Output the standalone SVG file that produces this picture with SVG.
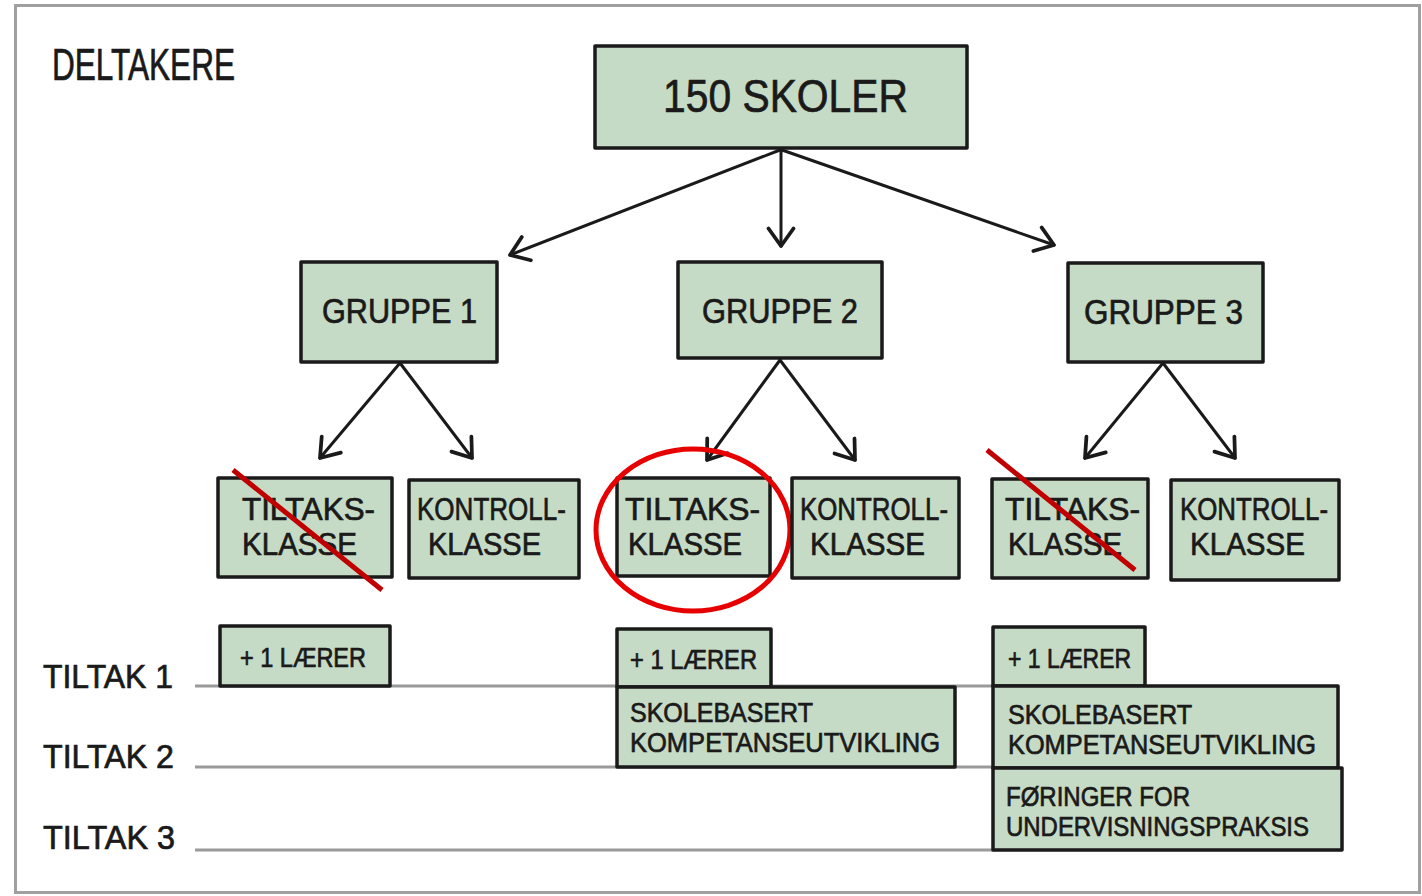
<svg xmlns="http://www.w3.org/2000/svg" width="1422" height="896" viewBox="0 0 1422 896">
<style>
.box{fill:#c6dbc5;stroke:#1a1a1a;stroke-width:3.5;stroke-linejoin:round}
.t{font-family:"Liberation Sans",Arial,sans-serif;fill:#1a1a1a;stroke:#1a1a1a;stroke-width:0.7;font-weight:normal}
.lane{stroke:#9a9a9a;stroke-width:3;fill:none}
.conn{stroke:#1a1a1a;stroke-width:3;fill:none;stroke-linecap:round}
.strike{stroke:#c00000;stroke-width:5;stroke-linecap:butt}
</style>
<defs>
<marker id="ah" markerUnits="userSpaceOnUse" markerWidth="30" markerHeight="30" viewBox="-16 -12 20 24" refX="0" refY="0" orient="auto">
<path d="M -14 -10 L 0 0 L -14 10" fill="none" stroke="#1a1a1a" stroke-width="3" stroke-linecap="round" stroke-linejoin="round"/>
</marker>
</defs>
<rect x="0" y="0" width="1422" height="896" fill="#ffffff"/>
<rect x="15.5" y="5.5" width="1404" height="887" fill="none" stroke="#a0a0a0" stroke-width="3"/>
<text class="t" x="52" y="80" font-size="44" textLength="183" lengthAdjust="spacingAndGlyphs">DELTAKERE</text>

<g id="lanes">
<line class="lane" x1="195" y1="686" x2="995" y2="686"/>
<line class="lane" x1="195" y1="767" x2="995" y2="767"/>
<line class="lane" x1="195" y1="850" x2="995" y2="850"/>
<text class="t" x="43" y="688" font-size="34" textLength="130" lengthAdjust="spacingAndGlyphs">TILTAK 1</text>
<text class="t" x="43" y="768" font-size="34" textLength="131" lengthAdjust="spacingAndGlyphs">TILTAK 2</text>
<text class="t" x="43" y="849" font-size="34" textLength="132" lengthAdjust="spacingAndGlyphs">TILTAK 3</text>
</g>

<g id="connectors">
<line class="conn" x1="780" y1="150" x2="510" y2="255" marker-end="url(#ah)"/>
<line class="conn" x1="781" y1="150" x2="781" y2="246" marker-end="url(#ah)"/>
<line class="conn" x1="782" y1="150" x2="1054" y2="245" marker-end="url(#ah)"/>
<line class="conn" x1="400" y1="363" x2="320" y2="458" marker-end="url(#ah)"/>
<line class="conn" x1="400" y1="363" x2="472" y2="458" marker-end="url(#ah)"/>
<line class="conn" x1="780" y1="360" x2="707" y2="460" marker-end="url(#ah)"/>
<line class="conn" x1="780" y1="360" x2="855" y2="460" marker-end="url(#ah)"/>
<line class="conn" x1="1163" y1="363" x2="1085" y2="458" marker-end="url(#ah)"/>
<line class="conn" x1="1163" y1="363" x2="1235" y2="458" marker-end="url(#ah)"/>
</g>

<g id="skoler">
<rect class="box" x="595" y="46" width="372" height="102"/>
<text class="t" x="663" y="112" font-size="47" textLength="245" lengthAdjust="spacingAndGlyphs">150 SKOLER</text>
</g>

<g id="gruppe1">
<rect class="box" x="301" y="262" width="196" height="100"/>
<text class="t" x="322" y="323" font-size="35" textLength="155" lengthAdjust="spacingAndGlyphs">GRUPPE 1</text>
</g>
<g id="gruppe2">
<rect class="box" x="678" y="262" width="204" height="96"/>
<text class="t" x="702" y="323" font-size="35" textLength="156" lengthAdjust="spacingAndGlyphs">GRUPPE 2</text>
</g>
<g id="gruppe3">
<rect class="box" x="1068" y="263" width="195" height="99"/>
<text class="t" x="1084" y="324" font-size="35" textLength="159" lengthAdjust="spacingAndGlyphs">GRUPPE 3</text>
</g>

<g id="g1-tiltak">
<rect class="box" x="218" y="478" width="174" height="99"/>
<text class="t" x="242" y="520" font-size="32" textLength="133" lengthAdjust="spacingAndGlyphs">TILTAKS-</text>
<text class="t" x="242" y="555" font-size="32" textLength="115" lengthAdjust="spacingAndGlyphs">KLASSE</text>
<line class="strike" x1="233" y1="470" x2="382" y2="590"/>
</g>
<g id="g1-kontroll">
<rect class="box" x="409" y="480" width="170" height="98"/>
<text class="t" x="417" y="520" font-size="32" textLength="149" lengthAdjust="spacingAndGlyphs">KONTROLL-</text>
<text class="t" x="428" y="555" font-size="32" textLength="113" lengthAdjust="spacingAndGlyphs">KLASSE</text>
</g>
<g id="g2-tiltak">
<rect class="box" x="617" y="478" width="153" height="98"/>
<text class="t" x="625" y="520" font-size="32" textLength="135" lengthAdjust="spacingAndGlyphs">TILTAKS-</text>
<text class="t" x="628" y="555" font-size="32" textLength="114" lengthAdjust="spacingAndGlyphs">KLASSE</text>
<ellipse cx="693" cy="530" rx="97" ry="81" fill="none" stroke="#e60000" stroke-width="5"/>
</g>
<g id="g2-kontroll">
<rect class="box" x="792" y="478" width="167" height="100"/>
<text class="t" x="800" y="520" font-size="32" textLength="148" lengthAdjust="spacingAndGlyphs">KONTROLL-</text>
<text class="t" x="810" y="555" font-size="32" textLength="115" lengthAdjust="spacingAndGlyphs">KLASSE</text>
</g>
<g id="g3-tiltak">
<rect class="box" x="992" y="479" width="156" height="99"/>
<text class="t" x="1005" y="520" font-size="32" textLength="135" lengthAdjust="spacingAndGlyphs">TILTAKS-</text>
<text class="t" x="1008" y="555" font-size="32" textLength="114" lengthAdjust="spacingAndGlyphs">KLASSE</text>
<line class="strike" x1="987" y1="450" x2="1135" y2="570"/>
</g>
<g id="g3-kontroll">
<rect class="box" x="1171" y="480" width="168" height="100"/>
<text class="t" x="1180" y="520" font-size="32" textLength="148" lengthAdjust="spacingAndGlyphs">KONTROLL-</text>
<text class="t" x="1190" y="555" font-size="32" textLength="115" lengthAdjust="spacingAndGlyphs">KLASSE</text>
</g>

<g id="g1-laerer">
<rect class="box" x="220" y="626" width="170" height="60"/>
<text class="t" x="240" y="667" font-size="27" textLength="126" lengthAdjust="spacingAndGlyphs">+ 1 LÆRER</text>
</g>
<g id="g2-laerer">
<rect class="box" x="617" y="629" width="154" height="58"/>
<text class="t" x="630" y="669" font-size="27" textLength="127" lengthAdjust="spacingAndGlyphs">+ 1 LÆRER</text>
</g>
<g id="g2-skolebasert">
<rect class="box" x="617" y="687" width="338" height="80"/>
<text class="t" x="630" y="722" font-size="28" textLength="183" lengthAdjust="spacingAndGlyphs">SKOLEBASERT</text>
<text class="t" x="630" y="752" font-size="28" textLength="310" lengthAdjust="spacingAndGlyphs">KOMPETANSEUTVIKLING</text>
</g>
<g id="g3-laerer">
<rect class="box" x="993" y="627" width="152" height="59"/>
<text class="t" x="1008" y="668" font-size="27" textLength="123" lengthAdjust="spacingAndGlyphs">+ 1 LÆRER</text>
</g>
<g id="g3-skolebasert">
<rect class="box" x="993" y="686" width="345" height="82"/>
<text class="t" x="1008" y="724" font-size="28" textLength="184" lengthAdjust="spacingAndGlyphs">SKOLEBASERT</text>
<text class="t" x="1008" y="754" font-size="28" textLength="308" lengthAdjust="spacingAndGlyphs">KOMPETANSEUTVIKLING</text>
</g>
<g id="g3-foringer">
<rect class="box" x="993" y="768" width="349" height="82"/>
<text class="t" x="1006" y="806" font-size="28" textLength="184" lengthAdjust="spacingAndGlyphs">FØRINGER FOR</text>
<text class="t" x="1006" y="836" font-size="28" textLength="303" lengthAdjust="spacingAndGlyphs">UNDERVISNINGSPRAKSIS</text>
</g>
</svg>
